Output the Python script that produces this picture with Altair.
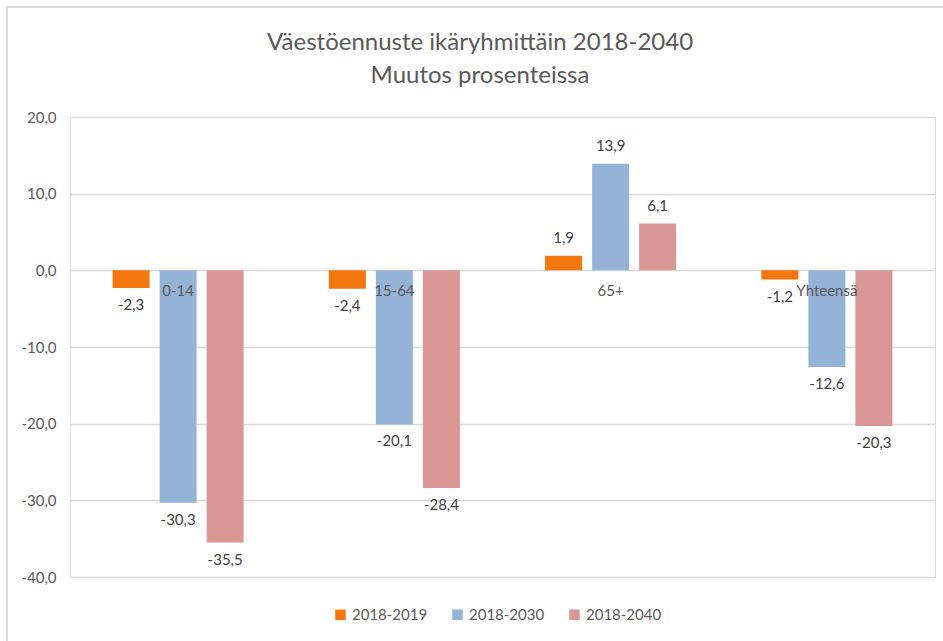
import altair as alt
import pandas as pd

title_lines = ["Väestöennuste ikäryhmittäin 2018-2040", "Muutos prosenteissa"]
categories = ["0-14", "15-64", "65+", "Yhteensä"]
series = ["2018-2019", "2018-2030", "2018-2040"]
v2019 = [-2.3, -2.4, 1.9, -1.2]
v2030 = [-30.3, -20.1, 13.9, -12.6]
v2040 = [-35.5, -28.4, 6.1, -20.3]
colors = ["#F3760E", "#95B3D7", "#D99694"]
y_ticks = [-40, -30, -20, -10, 0, 10, 20]

rows = []
for s, vals in zip(series, [v2019, v2030, v2040]):
    for c, v in zip(categories, vals):
        rows.append({"cat": c, "ser": s, "val": v})
df = pd.DataFrame(rows)
cat_df = pd.DataFrame({"cat": categories})

FONT = "Lato"
TXT = "#595959"
FMT = "replace(replace(format({v}, '.1f'), '.', ','), '\u2212', '-')"

x_enc = alt.X("cat:N", sort=categories,
              scale=alt.Scale(paddingInner=0.394, paddingOuter=0.197),
              axis=None)
xoff = alt.XOffset("ser:N", sort=series,
                   scale=alt.Scale(paddingInner=0.213, paddingOuter=0))
y_scale = alt.Scale(domain=[-40, 20], nice=False)

base = alt.Chart(df).transform_calculate(lab=FMT.format(v="datum.val"))

bars = base.mark_bar().encode(
    x=x_enc,
    xOffset=xoff,
    y=alt.Y("val:Q", scale=y_scale,
            axis=alt.Axis(values=y_ticks, title=None, domain=False, ticks=False,
                          labelExpr=FMT.format(v="datum.value"),
                          labelPadding=14, labelFontSize=15, labelColor=TXT,
                          labelFont=FONT, gridColor="#D9D9D9", gridWidth=1.3)),
    y2=alt.datum(0),
    color=alt.Color("ser:N", sort=series,
                    scale=alt.Scale(domain=series, range=colors),
                    legend=alt.Legend(title=None, orient="none", direction="horizontal",
                                      legendX=263, legendY=490, symbolType="square",
                                      symbolSize=110, symbolStrokeWidth=0,
                                      labelFontSize=15, labelColor=TXT, labelFont=FONT,
                                      columnPadding=22, labelOffset=4)),
)

lab_neg = base.transform_filter("datum.val < 0").mark_text(
    baseline="top", dy=10, fontSize=15, color="#404040", font=FONT
).encode(x=x_enc, xOffset=xoff, y=alt.Y("val:Q", scale=y_scale), text="lab:N")

lab_pos = base.transform_filter("datum.val >= 0").mark_text(
    baseline="bottom", dy=-10, fontSize=15, color="#404040", font=FONT
).encode(x=x_enc, xOffset=xoff, y=alt.Y("val:Q", scale=y_scale), text="lab:N")

cat_labels = alt.Chart(cat_df).mark_text(
    baseline="top", dy=14, fontSize=15, color=TXT, font=FONT
).encode(x=x_enc, y=alt.datum(0, scale=y_scale), text="cat:N")

border = alt.Chart(cat_df).mark_rect(
    fill=None, stroke="#D9D9D9", strokeWidth=2
).encode(x=alt.value(-63), x2=alt.value(900), y=alt.value(-110), y2=alt.value(600))

title1 = alt.Chart(pd.DataFrame({"t": [title_lines[0]]})).mark_text(
    fontSize=24, font=FONT, color=TXT, baseline="middle", align="center"
).encode(x=alt.value(410), y=alt.value(-74), text="t:N")
title2 = alt.Chart(pd.DataFrame({"t": [title_lines[1]]})).mark_text(
    fontSize=24, font=FONT, color=TXT, baseline="middle", align="center"
).encode(x=alt.value(410), y=alt.value(-41), text="t:N")

chart = alt.layer(border, bars, lab_neg, lab_pos, cat_labels, title1, title2).properties(
    width=865, height=460,
    padding={"left": 70, "top": 117, "right": 8, "bottom": 64},
    autosize=alt.AutoSizeParams(type="none"),
).configure_view(stroke=None).configure(background="white")

chart.save("out.html", embed_options={"renderer": "svg", "actions": False})
